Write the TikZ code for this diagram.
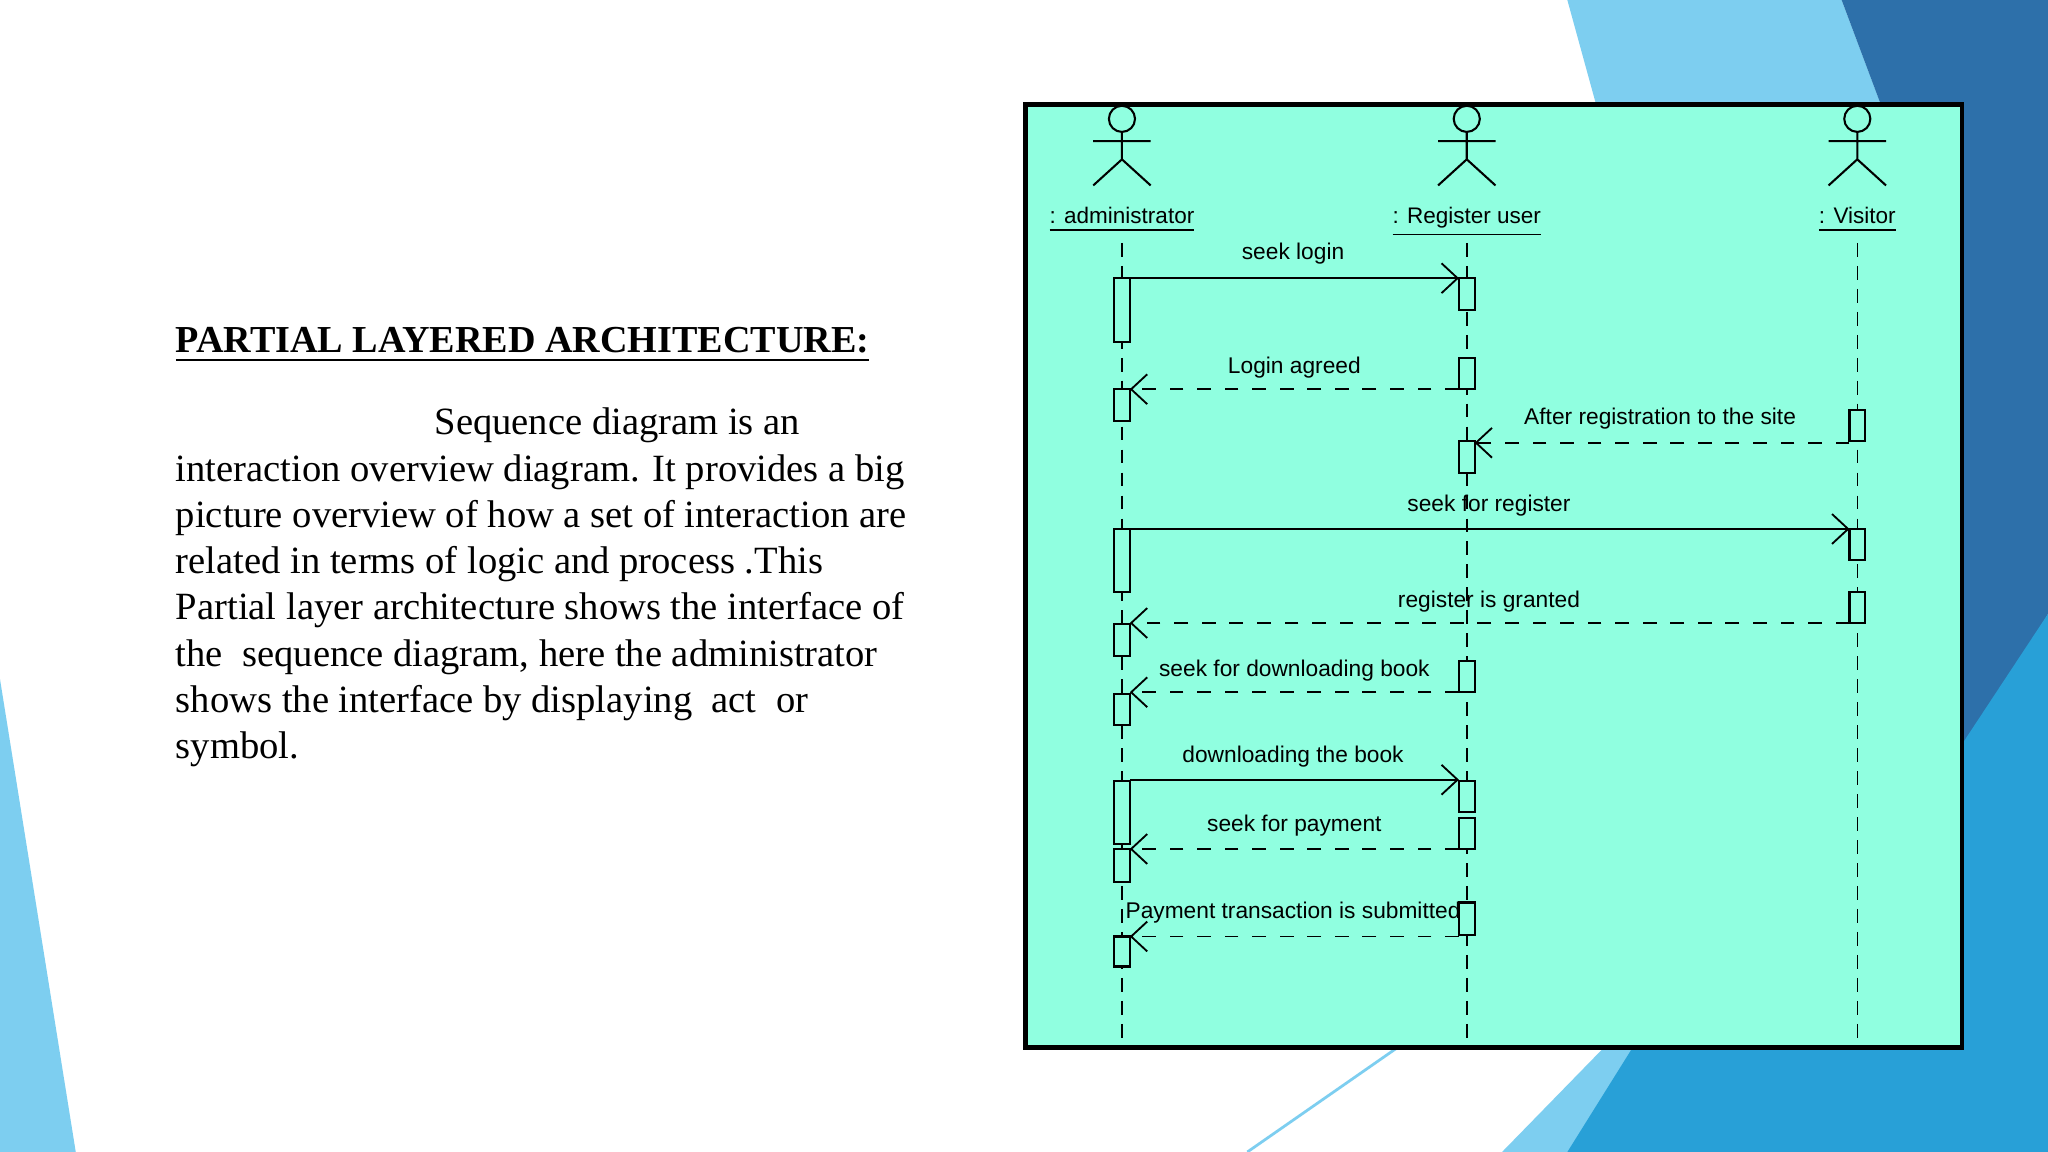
\documentclass[tikz,border=0pt]{standalone}
\usepackage{fontspec}
\setmainfont{Liberation Serif}
\setsansfont{Liberation Sans}
\usetikzlibrary{arrows.meta}
\definecolor{aqua}{RGB}{144,255,224}
\definecolor{lb}{RGB}{125,206,240}
\definecolor{mb}{RGB}{40,160,215}
\definecolor{db}{RGB}{45,112,170}
\tikzset{
 act/.style={draw,fill=aqua,line width=0.45pt},
 life/.style={densely dashed,line width=0.35pt},
 msg/.style={line width=0.4pt,-{Straight Barb[length=3.5pt,width=6.5pt]}},
 ret/.style={msg,dashed},
 lbl/.style={font=\sffamily\fontsize{4.95}{6}\selectfont,anchor=base},
 txt/.style={anchor=base west,font=\fontsize{8.4}{10}\selectfont,inner sep=0}
}
\begin{document}
\begin{tikzpicture}[x=0.01cm,y=-0.01cm]
\useasboundingbox (0,0) rectangle (1568,882);
\fill[white] (0,0) rectangle (1568,882);
% background shapes
\fill[lb] (1200,0) -- (1410,0) -- (1568,420) -- (1568,882) -- (1150,882) -- (1230,800) -- (1502,800) -- (1502,80) -- (1222,80) -- cycle;
\fill[db] (1410,0) -- (1568,0) -- (1568,470) -- (1502,580) -- (1502,80) -- (1440,80) -- cycle;
\fill[mb] (1502,570) -- (1568,470) -- (1568,882) -- (1200,882) -- (1250,802) -- (1502,802) -- cycle;
\fill[lb] (0,520) -- (58,882) -- (0,882) -- cycle;
\draw[lb,line width=0.6pt] (955,882) -- (1070,802);
% text
\node[txt,font=\bfseries\fontsize{8.3}{10}\selectfont] (title) at (134,270) {\underline{PARTIAL LAYERED ARCHITECTURE:}};
\node[txt] (l1) at (332,333) {Sequence diagram is an};
\foreach \t [count=\i] in {interaction overview diagram. It provides a big,picture overview of how a set of interaction are,related in terms of logic and process .This,Partial layer architecture shows the interface of,the\ \ sequence diagram{,} here the administrator,shows the interface by displaying\ \ act\ \ or,symbol.}
  \node[txt] (p\i) at (134,333+35.4*\i) {\t};
% diagram frame
\draw[fill=aqua,line width=1.0pt] (785,80) rectangle (1502,802);
% actors
\foreach \x/\n/\l in {859/a/{: administrator},1123/r/{: Register user},1422/v/{: Visitor}}{
  \draw[line width=0.45pt] (\x,91) circle (10);
  \draw[line width=0.45pt] (\x,101) -- (\x,122) (\x-22,108) -- (\x+22,108) (\x-22,142) -- (\x,122) -- (\x+22,142);
  \node[lbl,font=\sffamily\fontsize{4.9}{6}\selectfont] (\n) at (\x,171) {\underline{\l}};
  \draw[life] (\x,186) -- (\x,800);
}
% activations
\foreach \y/\h in {213/262,298/322,405/453,478/502,531/555,598/646,650/675,717/740}
  \draw[act] (853,\y) rectangle (865,\h);
\foreach \y/\h in {213/237,274/298,338/362,506/530,598/622,626/650,691/716}
  \draw[act] (1117,\y) rectangle (1129,\h);
\foreach \y/\h in {314/338,405/429,453/477}
  \draw[act] (1416,\y) rectangle (1428,\h);
% messages
\draw[msg] (865,213) -- (1117,213); \node[lbl] at (990,199) {seek login};
\draw[ret] (1117,298) -- (865,298); \node[lbl] at (991,286) {Login agreed};
\draw[ret] (1416,339) -- (1129,339); \node[lbl] at (1271,325) {After registration to the site};
\draw[msg] (865,405) -- (1416,405); \node[lbl] at (1140,392) {seek for register};
\draw[ret] (1416,477) -- (865,477); \node[lbl] at (1140,465) {register is granted};
\draw[ret] (1117,530) -- (865,530); \node[lbl] at (991,518) {seek for downloading book};
\draw[msg] (865,597) -- (1117,597); \node[lbl] at (990,584) {downloading the book};
\draw[ret] (1117,650) -- (865,650); \node[lbl] at (991,637) {seek for payment};
\draw[ret] (1117,717) -- (865,717); \node[lbl] at (990,703) {Payment transaction is submitted};
\end{tikzpicture}
\end{document}
